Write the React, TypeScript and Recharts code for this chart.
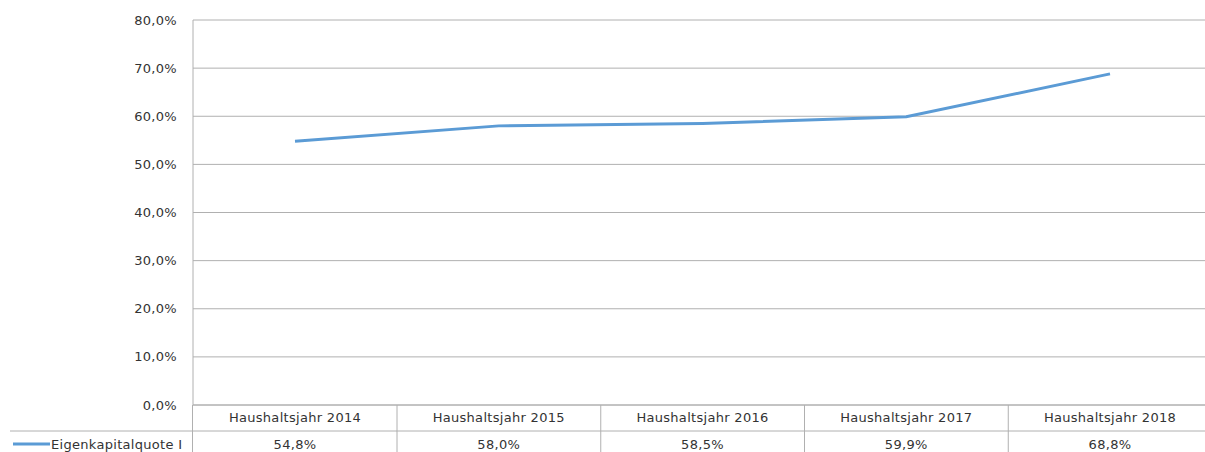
import { LineChart, Line, XAxis, YAxis, CartesianGrid } from 'recharts';

const years = ['Haushaltsjahr 2014', 'Haushaltsjahr 2015', 'Haushaltsjahr 2016', 'Haushaltsjahr 2017', 'Haushaltsjahr 2018'];
const quote = [0.548, 0.58, 0.585, 0.599, 0.688];
const yTicks = [0, 0.1, 0.2, 0.3, 0.4, 0.5, 0.6, 0.7, 0.8];
const seriesName = 'Eigenkapitalquote I';

const chartData = years.map((year, i) => ({ year, value: quote[i] }));

const FONT = 'DejaVu Sans';
const TEXT = '#333333';
const GRID = '#b0b0b0';
const BLUE = '#5b9bd5';
const HALF = 102;

const pct = (v: number) => (v * 100).toFixed(1).replace('.', ',') + '%';

// x-axis tick draws one column of the data table
const TableTick = (props: any) => {
  const { x, payload, index } = props;
  const value = quote[index];
  return (
    <g>
      <line x1={x + HALF} y1={405} x2={x + HALF} y2={452} stroke={GRID} />
      <line x1={x - HALF} y1={431} x2={x + HALF} y2={431} stroke={GRID} />
      <text x={x} y={422} textAnchor='middle' fontFamily={FONT} fontSize={13} fill={TEXT} letterSpacing={0.3}>
        {payload.value}
      </text>
      <text x={x} y={449} textAnchor='middle' fontFamily={FONT} fontSize={13} fill={TEXT} letterSpacing={0.3}>
        {pct(value)}
      </text>
    </g>
  );
};

export default function App() {
  return (
    <div style={{ position: 'absolute', left: 0, top: 0, width: 1205, height: 452, overflow: 'hidden', background: '#fff' }}>
      <LineChart width={1212} height={452} data={chartData} margin={{ top: 20, right: 0, bottom: 0, left: 0 }}>
        <CartesianGrid vertical={false} stroke={GRID} />
        <XAxis
          dataKey='year'
          padding={{ left: HALF, right: HALF }}
          axisLine={{ stroke: GRID }}
          tickLine={false}
          tick={<TableTick />}
          interval={0}
          height={47}
        />
        <YAxis
          domain={[0, 0.8]}
          ticks={yTicks}
          tickFormatter={pct}
          width={193}
          axisLine={{ stroke: GRID }}
          tickLine={false}
          tickSize={0}
          tickMargin={16}
          tick={{ fontFamily: FONT, fontSize: 13, fill: TEXT, letterSpacing: 0.3 }}
        />
        <Line type='linear' dataKey='value' stroke={BLUE} strokeWidth={3} dot={false} isAnimationActive={false} />
      </LineChart>
      <svg width={193} height={452} style={{ position: 'absolute', left: 0, top: 0 }}>
        <line x1={10} y1={431} x2={193} y2={431} stroke={GRID} />
        <line x1={192.5} y1={405} x2={192.5} y2={452} stroke={GRID} />
        <line x1={13} y1={444} x2={50} y2={444} stroke={BLUE} strokeWidth={3} />
        <text x={51} y={449} fontFamily={FONT} fontSize={13} fill={TEXT} letterSpacing={0.3}>
          {seriesName}
        </text>
      </svg>
    </div>
  );
}
